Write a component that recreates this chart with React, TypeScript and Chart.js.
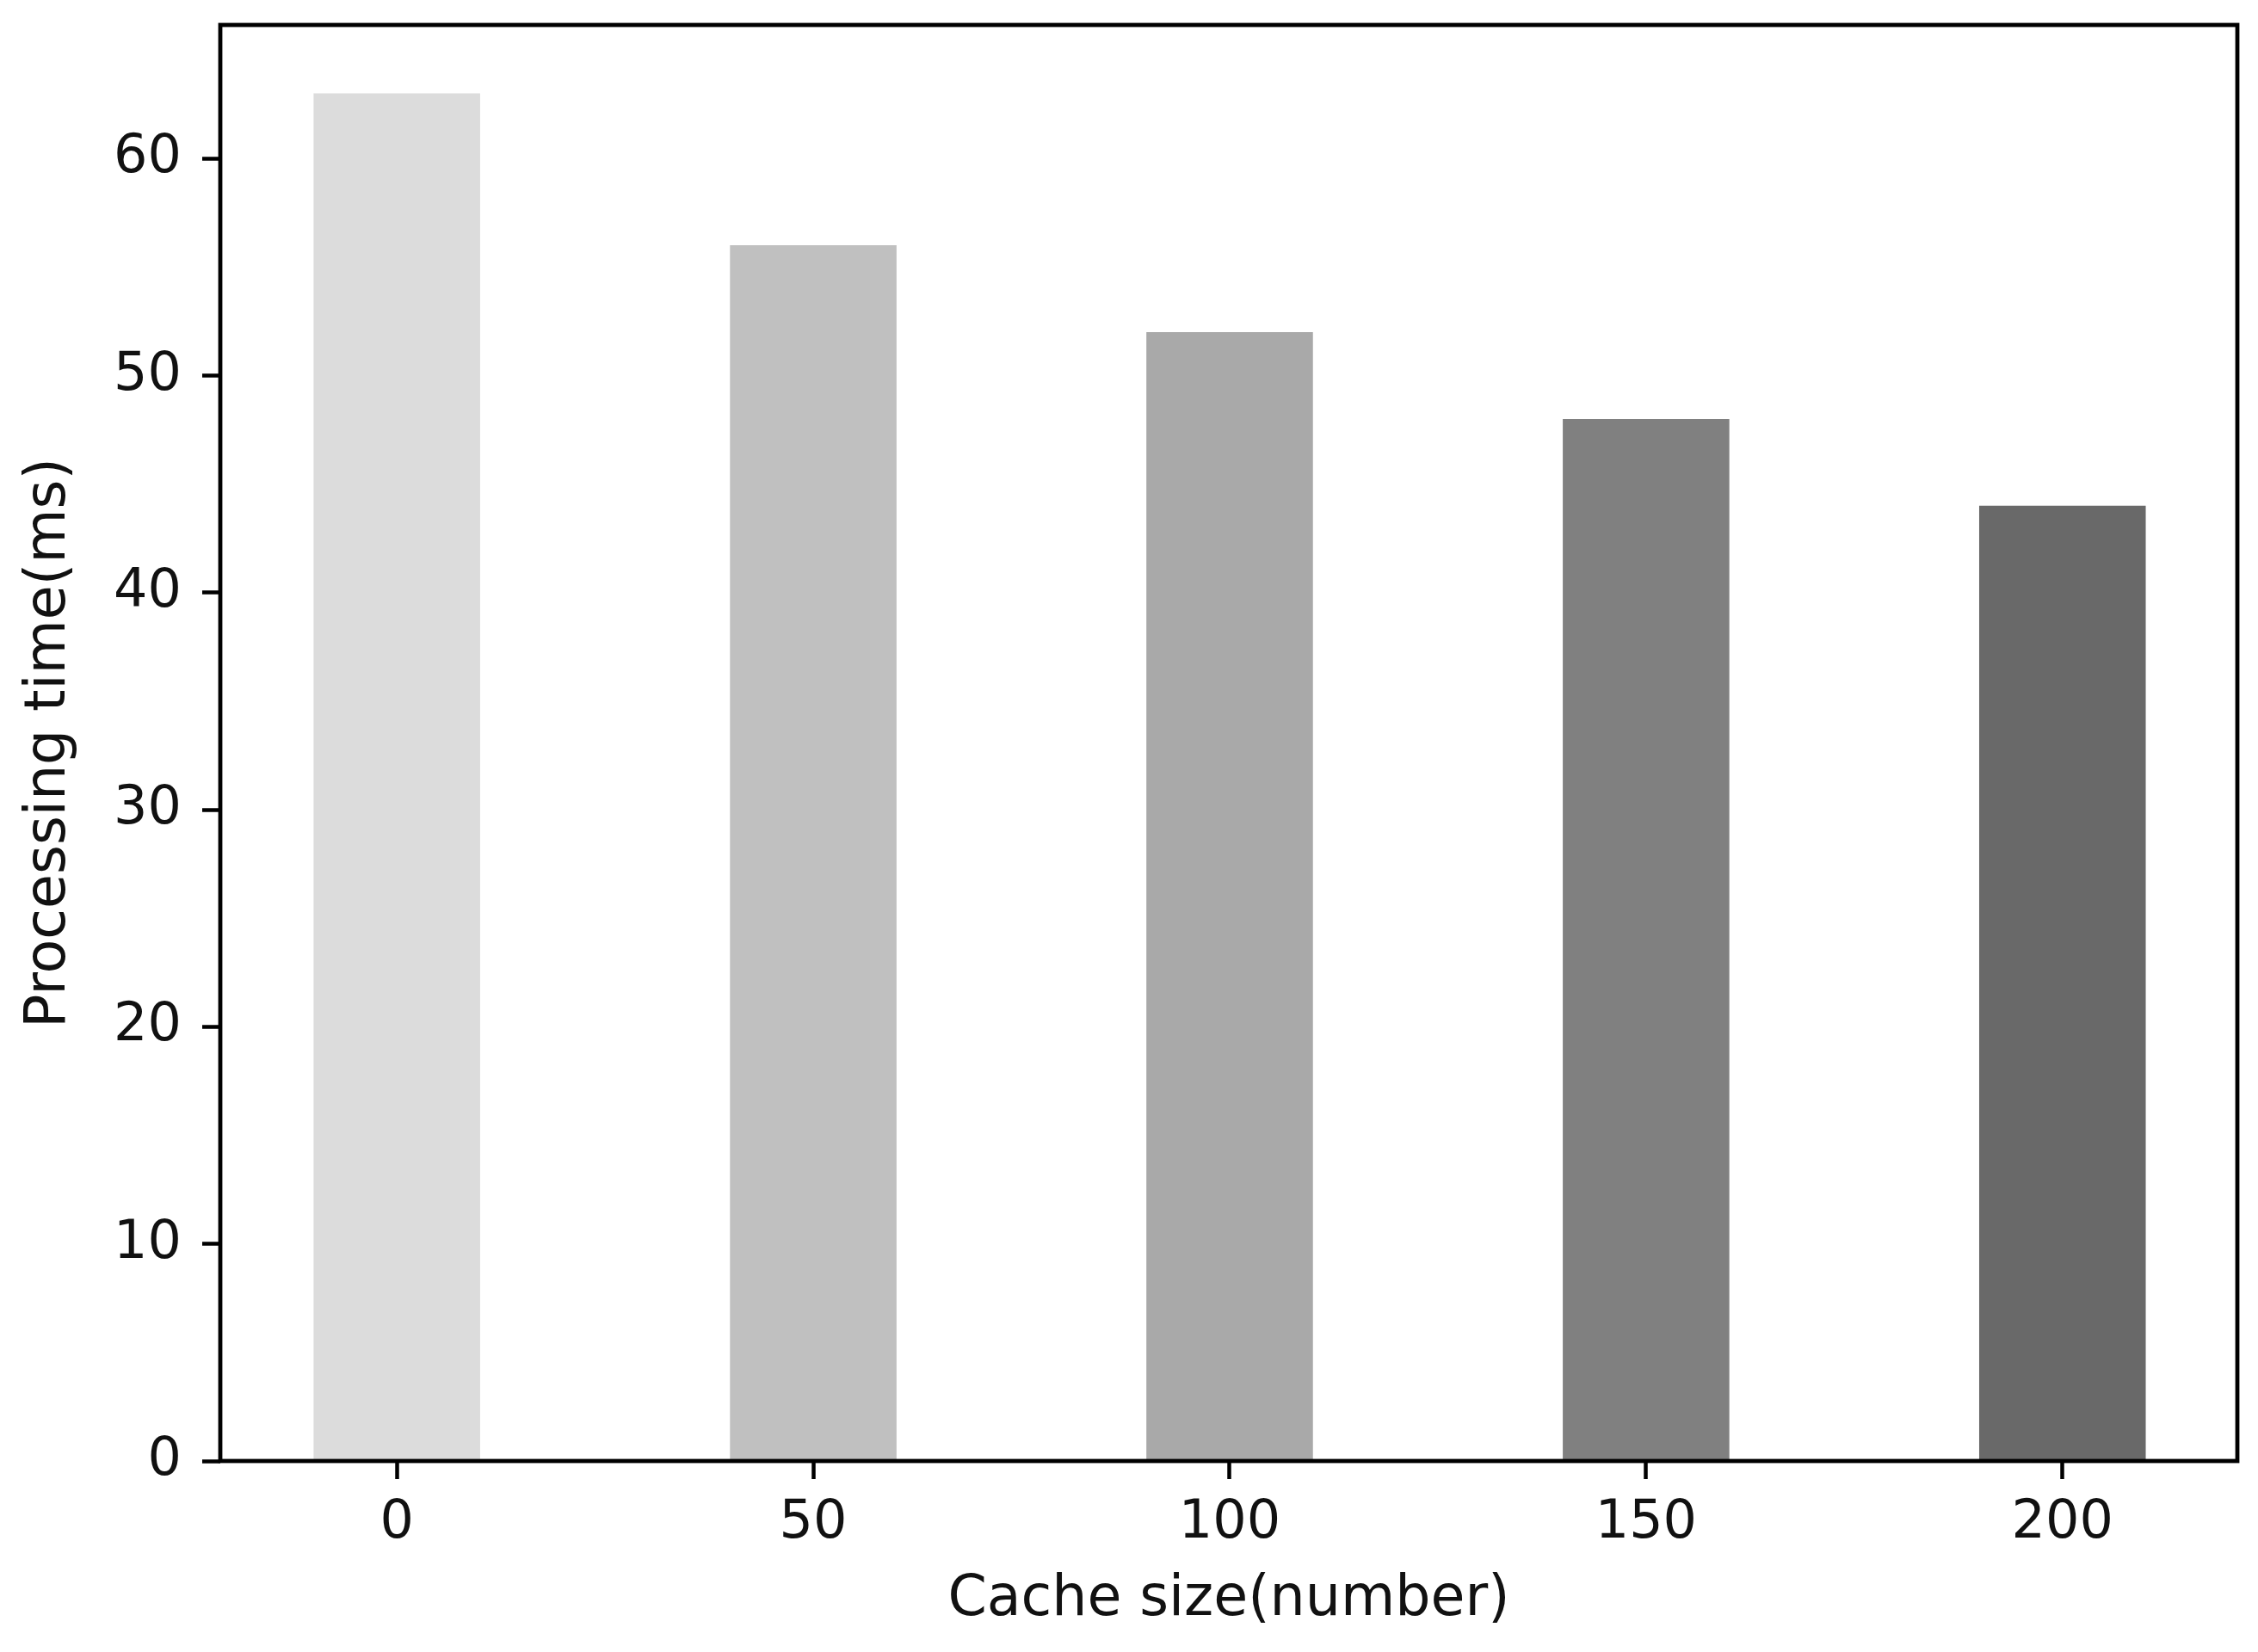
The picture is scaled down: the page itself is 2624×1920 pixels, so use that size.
import React, { useEffect, useRef } from "react";
import { Chart, registerables } from "chart.js";

Chart.register(...registerables);

const cacheSizes = [0, 50, 100, 150, 200];
const processingTimes = [63, 56, 52, 48, 44];
const barColors = ["#dcdcdc", "#c0c0c0", "#a9a9a9", "#808080", "#696969"];
const xTickValues = [0, 50, 100, 150, 200];
const yTickValues = [0, 10, 20, 30, 40, 50, 60];

const FONT = "'DejaVu Sans', 'Liberation Sans', sans-serif";

const framePlugin = {
  id: "frame",
  afterDatasetsDraw(chart: any) {
    const { ctx, chartArea } = chart;
    ctx.save();
    ctx.strokeStyle = "#000";
    ctx.lineWidth = 4.8;
    ctx.strokeRect(
      chartArea.left,
      chartArea.top,
      chartArea.right - chartArea.left,
      chartArea.bottom - chartArea.top
    );
    ctx.restore();
  },
};

export default function App() {
  const ref = useRef<HTMLCanvasElement | null>(null);

  useEffect(() => {
    if (!ref.current) return;
    const chart = new Chart(ref.current, {
      type: "bar",
      data: {
        datasets: [
          {
            data: cacheSizes.map((x, i) => ({ x, y: processingTimes[i] })),
            backgroundColor: barColors,
            borderWidth: 0,
            barPercentage: 0.4,
            categoryPercentage: 1.0,
          } as any,
        ],
      },
      options: {
        animation: false,
        responsive: false,
        devicePixelRatio: 1,
        layout: { padding: { left: 0, right: 24, top: 29, bottom: 0 } },
        plugins: {
          legend: { display: false },
          tooltip: { enabled: false },
        },
        scales: {
          x: {
            type: "linear",
            min: -21.2,
            max: 221,
            offset: false,
            afterBuildTicks: (scale: any) => {
              scale.ticks = xTickValues.map((v) => ({ value: v }));
            },
            afterFit: (scale: any) => {
              scale.height = 222;
              scale.paddingLeft = 0;
              scale.paddingRight = 0;
            },
            grid: {
              display: true,
              offset: false,
              drawOnChartArea: false,
              drawTicks: true,
              tickLength: 21,
              tickWidth: 4.5,
              tickColor: "#000",
            },
            border: { display: false },
            ticks: {
              color: "#111",
              font: { family: FONT, size: 62 },
              padding: 15,
              maxRotation: 0,
              autoSkip: false,
            },
            title: {
              display: true,
              text: "Cache size(number)",
              color: "#111",
              font: { family: FONT, size: 65 },
              padding: { top: 0, bottom: 21 },
            },
          },
          y: {
            type: "linear",
            min: 0,
            max: 66.15,
            afterBuildTicks: (scale: any) => {
              scale.ticks = yTickValues.map((v) => ({ value: v }));
            },
            afterFit: (scale: any) => {
              scale.width = 256;
              scale.paddingTop = 0;
              scale.paddingBottom = 0;
            },
            grid: {
              display: true,
              offset: false,
              drawOnChartArea: false,
              drawTicks: true,
              tickLength: 21,
              tickWidth: 4.5,
              tickColor: "#000",
            },
            border: { display: false },
            ticks: {
              color: "#111",
              font: { family: FONT, size: 62 },
              padding: 24,
            },
            title: {
              display: true,
              text: "Processing time(ms)",
              color: "#111",
              font: { family: FONT, size: 65 },
              padding: { top: 19, bottom: 0 },
            },
          },
        },
      },
      plugins: [framePlugin],
    });
    return () => chart.destroy();
  }, []);

  return (
    <div style={{ position: "absolute", left: 0, top: 0, width: 2624, height: 1920, background: "#fff" }}>
      <canvas ref={ref} width={2624} height={1920} style={{ display: "block", width: 2624, height: 1920 }} />
    </div>
  );
}
